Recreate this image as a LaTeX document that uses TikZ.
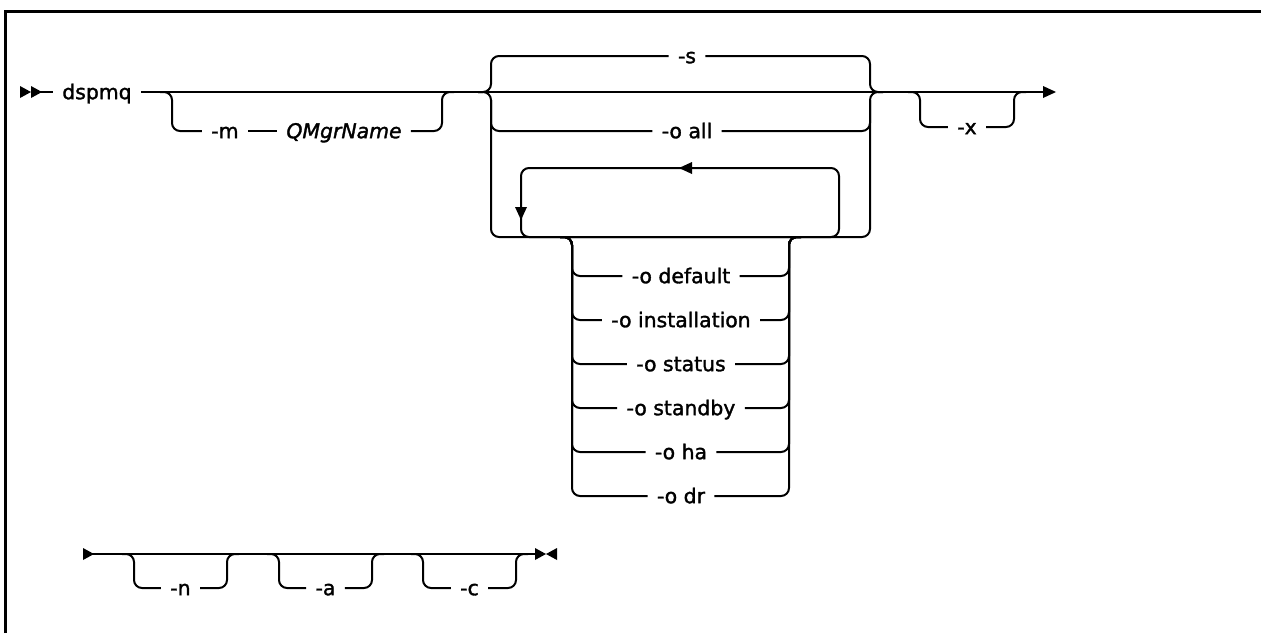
\documentclass[tikz,border=0pt]{standalone}
\usepackage{fontspec}
\setmainfont{DejaVu Sans}[FakeBold=1.6]
\begin{document}
\begin{tikzpicture}[x=0.5pt,y=-0.5pt,
  rail/.style={line width=1pt, rounded corners=4pt},
  lbl/.style={font=\fontsize{10.2}{12}\selectfont, inner xsep=4.5pt, inner ysep=0pt, text height=7.2pt, text depth=0pt},
  tipfill/.style={fill=black}]
\useasboundingbox (0,0) rectangle (1261,633);
% frame
\draw[line width=1.5pt] (5.5,633) -- (5.5,11.5) -- (1261,11.5);

% ---------- row 1 ----------
\fill[tipfill] (20,86) -- (31,92) -- (20,98) -- cycle;
\fill[tipfill] (31,86) -- (42,92) -- (31,98) -- cycle;
\coordinate (start) at (40,92);
\node[lbl] (dspmq) at (97,92) {dspmq};
\coordinate (end1) at (1044,92);
\draw[rail] (start) -- (dspmq.west);
\draw[rail] (dspmq.east) -- (end1);
\fill[tipfill] (1043,86) -- (1056,92) -- (1043,98) -- cycle;

% -m QMgrName
\node[lbl] (m) at (225,131) {-m};
\node[lbl] (q) at (344,131) {\itshape QMgrName};
\draw[rail] (160,92) -- (172,92) -- (172,131) -- (m.west);
\draw[rail] (m.east) -- (q.west);
\draw[rail] (q.east) -- (442,131) -- (442,92) -- (454,92);

% choice group
\node[lbl] (s) at (687,56) {-s};
\node[lbl] (oall) at (687,131) {-o all};
\draw[rail] (478,92) -- (491,92) -- (491,56) -- (s.west);
\draw[rail] (s.east) -- (870,56) -- (870,92) -- (883,92);
\draw[rail] (478,92) -- (491,92) -- (491,237) -- (870,237) -- (870,92) -- (883,92);
\draw[rail] (491,100) -- (491,131) -- (oall.west);
\draw[rail] (oall.east) -- (870,131) -- (870,100);

% repeat loop
\draw[rail] (521,168) rectangle (839,237);
\fill[tipfill] (679,168) -- (692,162) -- (692,174) -- cycle;
\fill[tipfill] (515,207) -- (527,207) -- (521,220) -- cycle;

% stack of -o options
\foreach \nm/\yy/\txt in {od/276/{-o default}, oi/320/{-o installation}, os/364/{-o status}, osb/408/{-o standby}, oh/452/{-o ha}, odr/496/{-o dr}}{
  \node[lbl] (\nm) at (681,\yy) {\txt};
  \draw[rail] (560,237) -- (572,237) -- (572,\yy) -- (\nm.west);
  \draw[rail] (\nm.east) -- (789,\yy) -- (789,237) -- (801,237);
}

% -x
\node[lbl] (x) at (967,127) {-x};
\draw[rail] (908,92) -- (920,92) -- (920,127) -- (x.west);
\draw[rail] (x.east) -- (1014,127) -- (1014,92) -- (1026,92);

% ---------- row 2 ----------
\fill[tipfill] (83,548) -- (94,554) -- (83,560) -- cycle;
\coordinate (start2) at (92,554);
\coordinate (end2) at (536,554);
\draw[rail] (start2) -- (end2);
\fill[tipfill] (535,548) -- (546,554) -- (535,560) -- cycle;
\fill[tipfill] (557,548) -- (546,554) -- (557,560) -- cycle;

\foreach \nm/\l/\r/\txt in {n/134/227/{-n}, a/279/372/{-a}, c/423/516/{-c}}{
  \node[lbl] (\nm) at ({(\l+\r)/2},588) {\txt};
  \draw[rail] (\l-12,554) -- (\l,554) -- (\l,588) -- (\nm.west);
  \draw[rail] (\nm.east) -- (\r,588) -- (\r,554) -- (\r+12,554);
}
\end{tikzpicture}
\end{document}
